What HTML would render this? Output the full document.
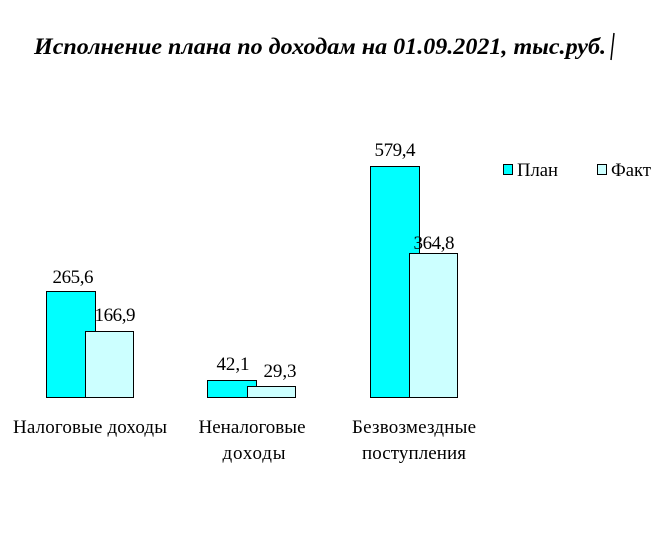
<!DOCTYPE html><html><head><meta charset="utf-8"><style>
body{margin:0;width:671px;height:536px;background:#fff;overflow:hidden}
svg text{font-family:"Liberation Serif",serif;fill:#000}
</style></head><body>
<svg width="671" height="536" xmlns="http://www.w3.org/2000/svg">
<text x="34" y="54" font-size="23" font-style="italic" font-weight="bold" textLength="572" lengthAdjust="spacingAndGlyphs">Исполнение плана по доходам на 01.09.2021, тыс.руб.</text>
<line x1="614" y1="33" x2="611" y2="60" stroke="#000" stroke-width="1.5"/>
<g stroke="#000" stroke-width="1">
<rect x="46.5" y="291.5" width="49" height="106" fill="#00ffff"/>
<rect x="85.5" y="331.5" width="48" height="66" fill="#ccffff"/>
<rect x="207.5" y="380.5" width="49" height="17" fill="#00ffff"/>
<rect x="247.5" y="386.5" width="48" height="11" fill="#ccffff"/>
<rect x="370.5" y="166.5" width="49" height="231" fill="#00ffff"/>
<rect x="409.5" y="253.5" width="48" height="144" fill="#ccffff"/>
<rect x="503.5" y="164.5" width="9" height="10" fill="#00ffff"/>
<rect x="597.5" y="164.5" width="9" height="10" fill="#ccffff"/>
</g>
<g font-size="19" text-anchor="middle" lengthAdjust="spacingAndGlyphs">
<text x="73" y="283" textLength="41">265,6</text>
<text x="115" y="321" textLength="41">166,9</text>
<text x="233" y="370" textLength="33">42,1</text>
<text x="280" y="377" textLength="33">29,3</text>
<text x="395" y="156" textLength="41">579,4</text>
<text x="434" y="249" textLength="41">364,8</text>
<text x="90" y="433" textLength="154">Налоговые доходы</text>
<text x="252" y="433" textLength="107">Неналоговые</text>
<text x="254" y="459" textLength="63">доходы</text>
<text x="414" y="433" textLength="124">Безвозмездные</text>
<text x="414" y="459" textLength="104">поступления</text>
</g>
<text x="517" y="176" font-size="19" textLength="41" lengthAdjust="spacingAndGlyphs">План</text>
<text x="611" y="176" font-size="19" textLength="40" lengthAdjust="spacingAndGlyphs">Факт</text>
</svg>
</body></html>
